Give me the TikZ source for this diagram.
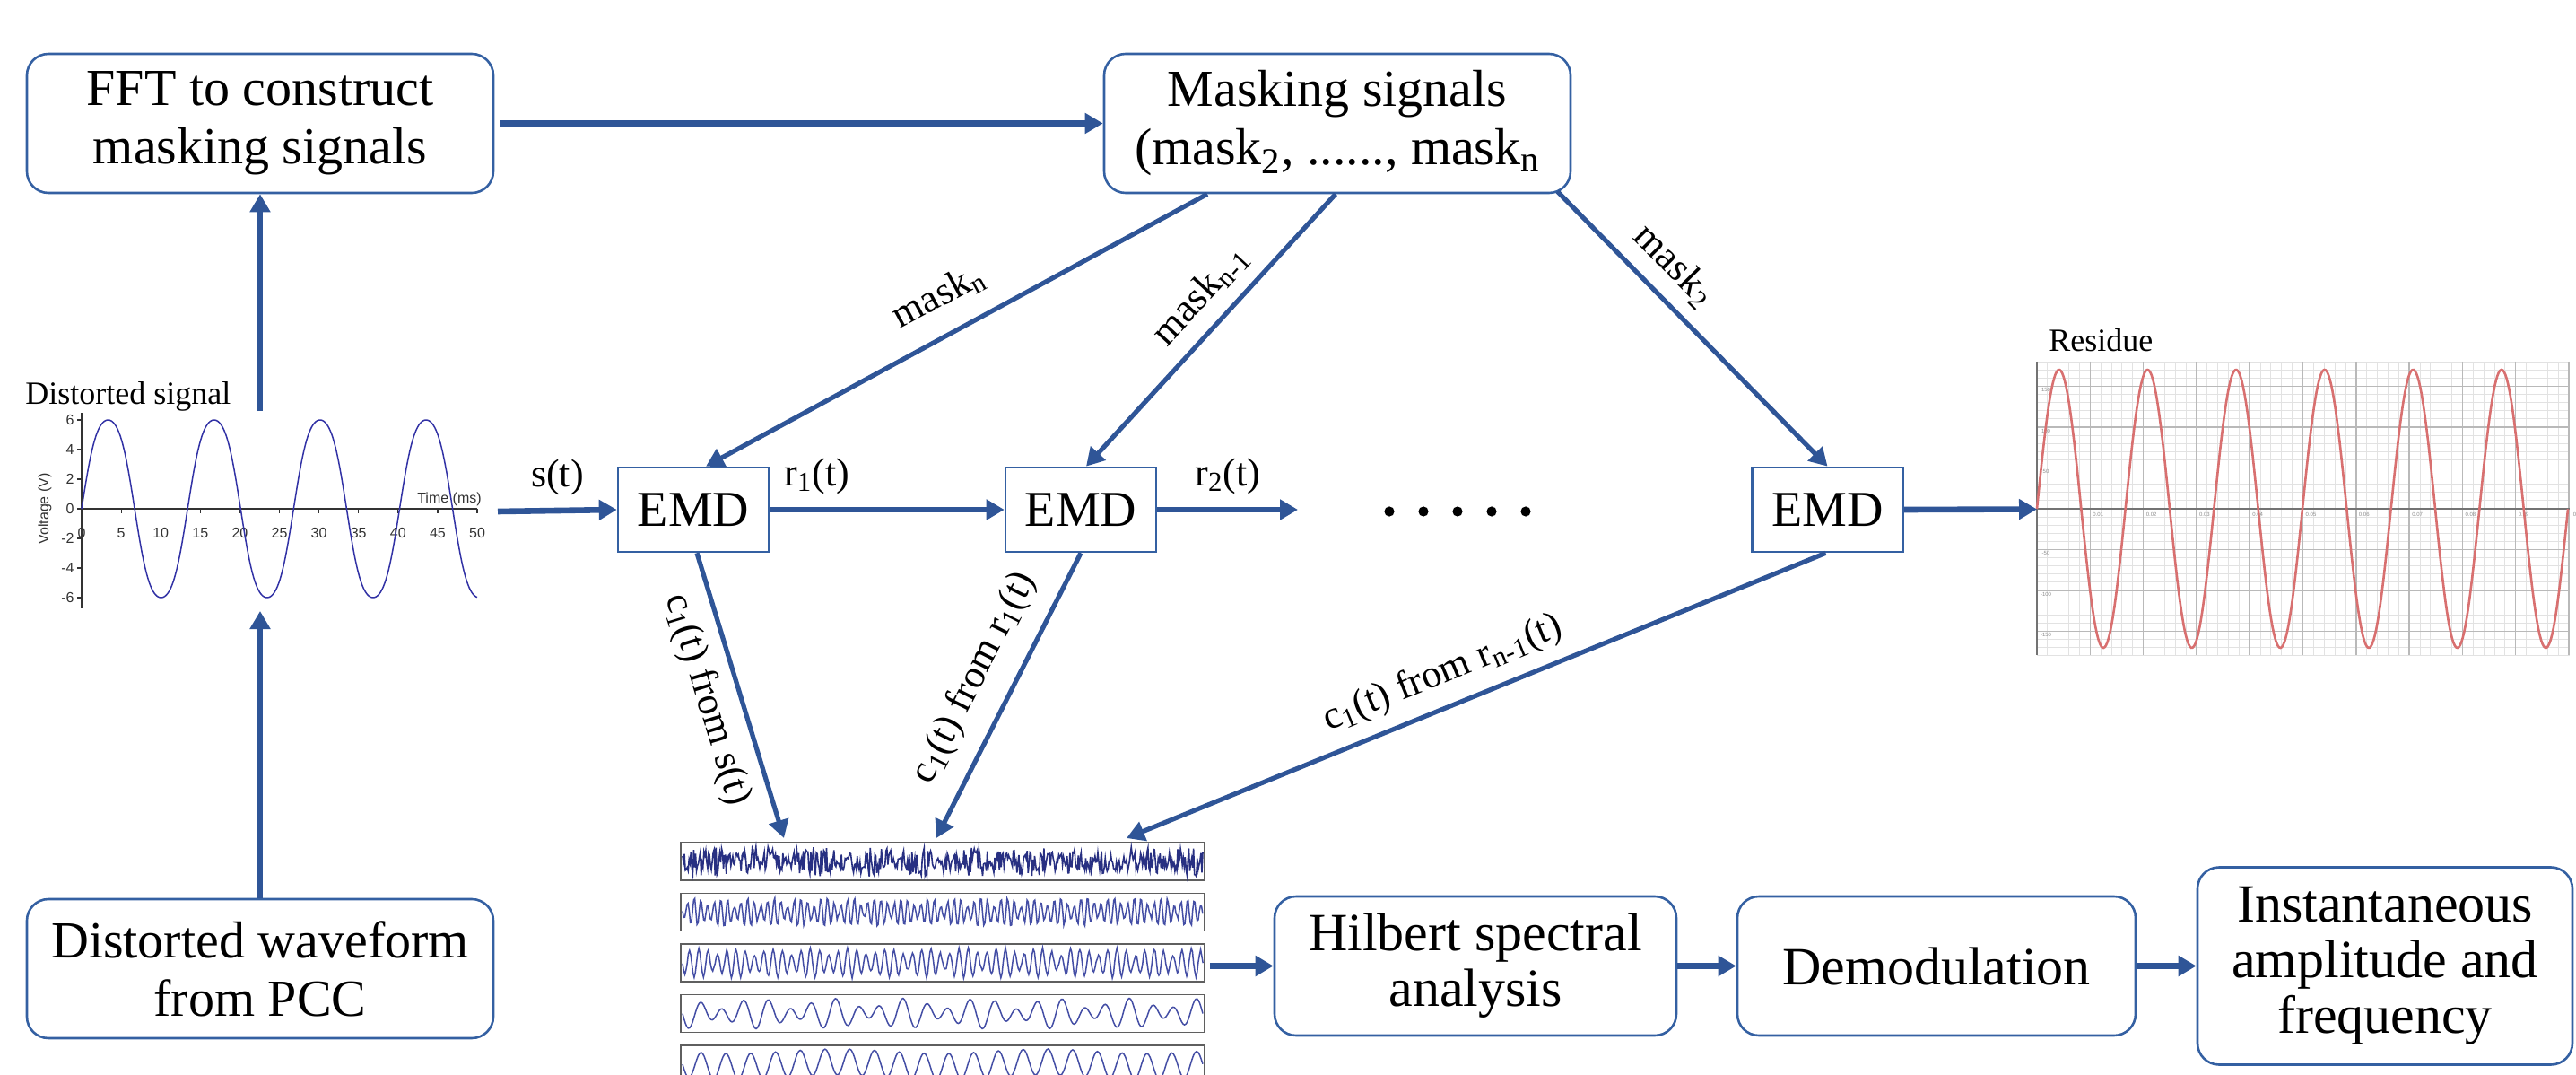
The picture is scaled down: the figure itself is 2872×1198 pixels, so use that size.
\documentclass[tikz,border=0pt]{standalone}
\usepackage{fontspec}
\setmainfont{Liberation Serif}
\newfontfamily\plotsans{Liberation Sans}
\usetikzlibrary{arrows.meta,calc}

\definecolor{arrowblue}{RGB}{47,85,151}
\definecolor{boxblue}{RGB}{52,96,162}
\definecolor{wavenavy}{RGB}{50,50,165}
\definecolor{imfdark}{RGB}{40,48,130}
\definecolor{imfblue}{RGB}{68,78,165}
\definecolor{resred}{RGB}{216,112,112}
\definecolor{gridmin}{RGB}{226,226,226}
\definecolor{gridmaj}{RGB}{185,185,185}
\definecolor{stripgray}{RGB}{95,95,95}

\newcommand{\bxfont}{\fontsize{29}{32.5}\selectfont}
\newcommand{\bxfontb}{\fontsize{30}{31}\selectfont}
\newcommand{\emdfont}{\fontsize{28}{30}\selectfont}
\newcommand{\lblfont}{\fontsize{22}{24}\selectfont}
\newcommand{\ttlfont}{\fontsize{18}{20}\selectfont}
\newcommand{\tickfont}{\plotsans\fontsize{8}{9}\selectfont}
\newcommand{\resfont}{\plotsans\fontsize{3}{3.5}\selectfont}

\begin{document}
\begin{tikzpicture}[x=0.5pt,y=-0.5pt,
  conn/.style={draw=arrowblue, line width=3.3pt, -{Triangle[length=10pt,width=11pt]}},
  diag/.style={conn, line width=2.6pt},
  rbox/.style={draw=boxblue, line width=1.3pt, rounded corners=12pt, fill=white,
    minimum width=260pt, minimum height=77.5pt, align=center, font=\bxfont},
  emdbox/.style={draw=boxblue, line width=1.3pt, fill=white,
    minimum width=84pt, minimum height=47pt, font=\emdfont},
  lbl/.style={font=\lblfont, inner sep=1pt},
  ttl/.style={font=\ttlfont, inner sep=0pt},
  tick/.style={font=\tickfont, text=black!80, inner sep=0pt},
  restick/.style={font=\resfont, text=black!45, inner sep=0pt},
]
\useasboundingbox (0,0) rectangle (2872,1198);
\pgfmathsetseed{42}

% ---------- process boxes ----------
\node[rbox] (fft) at (290,137.5) {FFT to construct\\masking signals};
\node[rbox] (mask) at (1491,137.5) {Masking signals\\(mask\textsubscript{2}, ......, mask\textsubscript{n}};
\node[rbox] (pcc) at (290,1079.5) {Distorted waveform\\from PCC};
\node[emdbox] (emd1) at (773,568) {EMD};
\node[emdbox] (emd2) at (1205,568) {EMD};
\node[emdbox] (emd3) at (2037.5,568) {EMD};
\node[rbox, minimum width=224pt, font=\bxfontb] (hil) at (1645,1076.5) {Hilbert spectral\\analysis};
\node[rbox, minimum width=222pt, font=\bxfontb] (dem) at (2159,1076.5) {Demodulation};
\node[rbox, minimum width=209pt, minimum height=110pt, font=\bxfontb] (inst) at (2659,1076.5) {Instantaneous\\amplitude and\\frequency};

% ---------- distorted signal plot ----------
\node[ttl, anchor=base west] (dsig) at (28,451) {Distorted signal};
\draw[black!80, line width=0.7pt] (91,460) -- (91,678);
\draw[black!80, line width=0.7pt] (91,567) -- (532,567);
\foreach \vv in {6,4,2,0,-2,-4,-6} {
  \draw[black!80, line width=0.6pt] (86,567-16.5*\vv) -- (91,567-16.5*\vv);
  \node[tick, anchor=east] at (83,567-16.5*\vv) {\vv};
}
\foreach \tt in {0,5,...,50} {
  \draw[black!80, line width=0.6pt] (91+8.82*\tt,567) -- (91+8.82*\tt,572);
  \node[tick] at (91+8.82*\tt,594) {\tt};
}
\node[tick, rotate=90] (vlab) at (50,567) {Voltage (V)};
\node[tick] (tlab) at (501,556) {Time (ms)};
\draw[wavenavy, line width=0.75pt] plot[domain=0:50, samples=300]
  ({91+8.82*\x}, {567-104.2*(sin(\x*26.87)+0.05*sin(\x*80.6))});
\coordinate (dtop) at (290,458);
\coordinate (dbot) at (290,681);
\coordinate (dout) at (555,570);

% ---------- residue plot ----------
\node[ttl, anchor=base west] (resttl) at (2284,392) {Residue};
\foreach \i in {0,...,50}
  \draw[gridmin, line width=0.45pt] (2271+\i*11.86,403) -- (2271+\i*11.86,730);
\foreach \k in {-18,...,18}
  \draw[gridmin, line width=0.45pt] (2271,567+\k*9.1) -- (2865,567+\k*9.1);
\foreach \i in {1,...,10}
  \draw[gridmaj, line width=0.75pt] (2271+\i*59.3,403) -- (2271+\i*59.3,730);
\foreach \k in {-15,-10,-5,5,10,15}
  \draw[gridmaj, line width=0.75pt] (2271,567+\k*9.1) -- (2865,567+\k*9.1);
\draw[black!55, line width=0.8pt] (2271,403) -- (2271,730);
\draw[black!55, line width=0.8pt] (2271,567) -- (2865,567);
\foreach \i/\lab in {1/0.01,2/0.02,3/0.03,4/0.04,5/0.05,6/0.06,7/0.07,8/0.08,9/0.09,10/0.1}
  \node[restick] at (2271+\i*59.3+9,573) {\lab};
\foreach \k/\lab in {-15/150,-10/100,-5/50,5/-50,10/-100,15/-150}
  \node[restick] at (2281,567+\k*9.1+4) {\lab};
\draw[resred, line width=1.3pt] plot[domain=0:592, samples=400]
  ({2271+\x}, {567-155*sin(\x*3.6485)});
\coordinate (resin) at (2271,567.5);

% ---------- IMF strips ----------
\begin{scope}
  \clip (750,925) rectangle (1352,1198);
  \foreach \tp in {939,995.5,1052,1108.5,1165}
    \draw[stripgray, line width=0.9pt, fill=white] (759,\tp) rectangle (1343,\tp+42);
  \draw[imfdark, line width=0.8pt] plot[domain=0:560, samples=561]
    ({761+\x*1.0357}, {960+17*rand*(0.6+0.4*abs(sin(\x*3.1)))});
  \draw[imfblue, line width=0.75pt] plot[domain=0:468, samples=469]
    ({761+\x*1.239}, {1016.5+16*(0.35+0.65*abs(sin(\x*7.7)))*sin(mod(\x,6)*60)+2*rand});
  \draw[imfblue, line width=0.75pt] plot[domain=0:448, samples=449]
    ({761+\x*1.295}, {1073+16*(0.45+0.55*abs(sin(\x*5.5+20)))*sin(mod(\x,8)*45)+1.5*rand});
  \draw[imfblue, line width=0.75pt] plot[domain=0:368, samples=369]
    ({761+\x*1.576}, {1129.5+17*(0.65*sin(mod(\x,16)*22.5)+0.35*sin(mod(\x,23)*15.652))});
  \draw[imfblue, line width=0.75pt] plot[domain=0:336, samples=337]
    ({761+\x*1.726}, {1186+17*(0.85*sin(mod(\x,16)*22.5)+0.15*sin(\x*2.7))});
\end{scope}
\coordinate (imfa) at (874,934);
\coordinate (imfb) at (1044,934);
\coordinate (imfc) at (1256,934);
\coordinate (imfout) at (1349,1076.5);

% ---------- trailing dots ----------
\coordinate (r2end) at (1447,568);
\foreach \k in {0,...,4}
  \fill (1549+38*\k,570) circle (2.8pt);

% ---------- connectors ----------
\draw[conn] (pcc.north) -- (dbot);
\draw[conn] (dtop) -- (fft.south);
\draw[conn, shorten <=3pt] (fft.east) -- (mask.west);
\draw[conn] (dout) -- node[lbl, above=6pt] {s(t)} (emd1.west);
\draw[conn] (emd1.east) -- node[lbl, above=6pt, pos=0.2] {r\textsubscript{1}(t)} (emd2.west);
\draw[conn] (emd2.east) -- node[lbl, above=6pt] {r\textsubscript{2}(t)} (r2end);
\draw[conn] (emd3.east) -- (resin);

\draw[diag] ($(mask.south)+(-145,0)$) -- node[lbl, sloped, above=10pt, pos=0.5] {mask\textsubscript{n}} ($(emd1.north)+(14,0)$);
\draw[diag] ($(mask.south)+(-2,0)$) -- node[lbl, sloped, above=6pt, pos=0.45] {mask\textsubscript{n-1}} ($(emd2.north)+(6,0)$);
\draw[diag] ($(mask.south east)+(-16,-3)$) -- node[lbl, sloped, above=6pt, pos=0.35] {mask\textsubscript{2}} (emd3.north);

\draw[diag] ($(emd1.south)+(4,0)$) -- node[lbl, sloped, below=6pt, pos=0.48] {c\textsubscript{1}(t) from s(t)} (imfa);
\draw[diag] (emd2.south) -- node[lbl, sloped, above=9pt, pos=0.5] {c\textsubscript{1}(t) from r\textsubscript{1}(t)} (imfb);
\draw[diag] ($(emd3.south)+(-2,0)$) -- node[lbl, sloped, above=6pt, pos=0.53] {c\textsubscript{1}(t) from r\textsubscript{n-1}(t)} (imfc);

\draw[conn] (imfout) -- (hil.west);
\draw[conn] (hil.east) -- (dem.west);
\draw[conn] (dem.east) -- (inst.west);
\end{tikzpicture}
\end{document}
